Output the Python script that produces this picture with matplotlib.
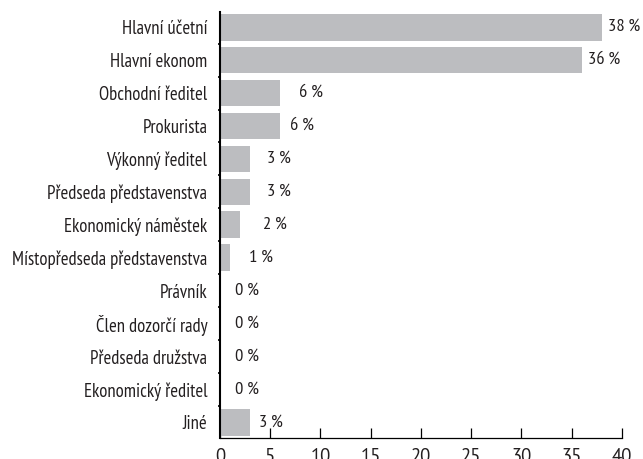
import matplotlib
matplotlib.use("Agg")
import matplotlib.pyplot as plt
from matplotlib import font_manager

categories = [
    "Hlavní účetní",
    "Hlavní ekonom",
    "Obchodní ředitel",
    "Prokurista",
    "Výkonný ředitel",
    "Předseda představenstva",
    "Ekonomický náměstek",
    "Místopředseda představenstva",
    "Právník",
    "Člen dozorčí rady",
    "Předseda družstva",
    "Ekonomický ředitel",
    "Jiné",
]
values = [38, 36, 6, 6, 3, 3, 2, 1, 0, 0, 0, 0, 3]
x_ticks = [0, 5, 10, 15, 20, 25, 30, 35, 40]

# gap between bar end and its percentage label (data units)
label_pad = [0.6, 0.6, 1.9, 1.0, 1.65, 1.65, 2.25, 1.9, 1.5, 1.5, 1.5, 1.5, 0.9]

installed = {f.name for f in font_manager.fontManager.ttflist}


def pick(*families):
    for fam in families:
        if fam in installed:
            return fam
    return "DejaVu Sans"


narrow = pick("PT Sans Narrow", "Roboto Condensed", "Open Sans Condensed",
              "Asap Condensed", "Archivo Narrow")
regular = pick("PT Sans", "Open Sans", "Noto Sans")

bar_color = "#bcbdc0"
ink = "#231f20"

fig = plt.figure(figsize=(6.43, 4.59), dpi=100)
ax = fig.add_axes([0.342, 0.0458, 0.625, 0.928])

ypos = list(range(len(categories)))
ax.barh(ypos, values, height=0.81, color=bar_color, zorder=2)

for y, v, pad in zip(ypos, values, label_pad):
    ax.text(v + pad, y, f"{v}\u2009%", va="center", ha="left",
            family=[narrow, "DejaVu Sans"], fontsize=13.3, color=ink)

ax.set_xlim(0, 40)
ax.set_ylim(12.47, -0.46)
ax.set_xticks(x_ticks)
ax.set_xticklabels([str(t) for t in x_ticks], fontsize=13.5, family=regular, color=ink)
ax.set_yticks(ypos)
ax.set_yticklabels(categories, fontsize=13.4, family=narrow, color=ink)

ax.tick_params(axis="x", direction="in", length=7, width=0.9, pad=7.5)
ax.tick_params(axis="y", length=0, pad=9)
# small marks between category rows
ax.set_yticks([y + 0.5 for y in ypos[:-1]], minor=True)
ax.tick_params(axis="y", which="minor", length=1.5, width=1.2)

for side in ("top", "right"):
    ax.spines[side].set_visible(False)
ax.spines["left"].set_linewidth(1.5)
ax.spines["bottom"].set_linewidth(0.9)

fig.savefig("out.png", dpi=100)
